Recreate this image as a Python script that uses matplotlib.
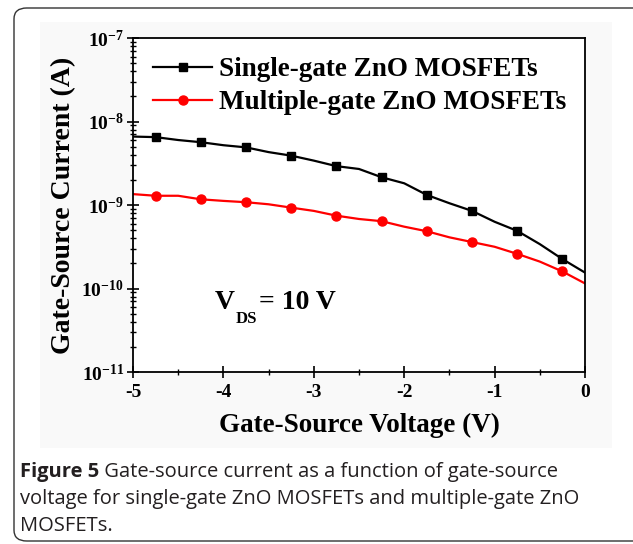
import numpy as np
import matplotlib
matplotlib.use("Agg")
import matplotlib.pyplot as plt
from matplotlib.patches import FancyBboxPatch, Rectangle
from matplotlib.ticker import FixedLocator, FuncFormatter, LogLocator, NullFormatter

# ---- data ----
vgs = [-5.0, -4.75, -4.5, -4.25, -4.0, -3.75, -3.5, -3.25, -3.0, -2.75, -2.5,
       -2.25, -2.0, -1.75, -1.5, -1.25, -1.0, -0.75, -0.5, -0.25, 0.0]
single_gate = [6.6e-9, 6.5e-9, 6.0e-9, 5.65e-9, 5.2e-9, 4.9e-9, 4.3e-9, 3.9e-9,
               3.4e-9, 2.92e-9, 2.7e-9, 2.15e-9, 1.82e-9, 1.32e-9, 1.05e-9,
               8.5e-10, 6.3e-10, 4.9e-10, 3.4e-10, 2.25e-10, 1.55e-10]
multi_gate = [1.35e-9, 1.29e-9, 1.29e-9, 1.17e-9, 1.12e-9, 1.08e-9, 1.02e-9,
              9.3e-10, 8.5e-10, 7.45e-10, 6.8e-10, 6.4e-10, 5.5e-10, 4.85e-10,
              4.1e-10, 3.6e-10, 3.16e-10, 2.6e-10, 2.1e-10, 1.6e-10, 1.15e-10]
labels = ["Single-gate ZnO MOSFETs", "Multiple-gate ZnO MOSFETs"]
x_ticks = [-5, -4, -3, -2, -1, 0]
y_exps = [-11, -10, -9, -8, -7]
caption_bold = "Figure 5"
caption_rest = (" Gate-source current as a function of gate-source\n"
                "voltage for single-gate ZnO MOSFETs and multiple-gate ZnO\n"
                "MOSFETs.")

plt.rcParams['mathtext.fontset'] = 'custom'
plt.rcParams['mathtext.rm'] = 'Liberation Serif:bold'
plt.rcParams['mathtext.bf'] = 'Liberation Serif:bold'
plt.rcParams['mathtext.it'] = 'Liberation Serif:bold'

W, H = 633, 544
fig = plt.figure(figsize=(W / 100, H / 100), dpi=100)
fig.patch.set_facecolor('white')

# outer rounded border
border = FancyBboxPatch((14 / W, 3 / H), (W + 20 - 14) / W, (536 - 3) / H,
                        boxstyle="round,pad=0,rounding_size=0.02",
                        transform=fig.transFigure, fill=False,
                        edgecolor='#333333', linewidth=1.0, zorder=0)
fig.patches.append(border)
# light gray image background
bg = Rectangle((40 / W, 1 - 448 / H), (612 - 40) / W, (448 - 22) / H,
               transform=fig.transFigure, facecolor='#f9f9f9',
               edgecolor='none', zorder=-1)
fig.patches.append(bg)

left, right, top, bottom = 133, 585, 38, 372
ax = fig.add_axes([left / W, 1 - bottom / H, (right - left) / W, (bottom - top) / H])
ax.set_facecolor('white')

serif = 'Liberation Serif'

ax.plot(vgs, single_gate, color='black', lw=1.6, marker='s', ms=6,
        markevery=list(range(1, len(vgs) - 1, 2)), label=labels[0])
ax.plot(vgs, multi_gate, color='#ff0000', lw=1.6, marker='o', ms=6.5,
        markevery=list(range(1, len(vgs) - 1, 2)), label=labels[1])

ax.set_yscale('log')
ax.set_xlim(-5, 0)
ax.set_ylim(1e-11, 1e-7)

ax.xaxis.set_major_locator(FixedLocator(x_ticks))
ax.xaxis.set_minor_locator(FixedLocator([-4.5, -3.5, -2.5, -1.5, -0.5]))
ax.set_xticklabels([str(t) for t in x_ticks], fontfamily=serif,
                   fontweight='bold', fontsize=14)

ax.yaxis.set_major_locator(FixedLocator([10.0 ** e for e in y_exps]))
ax.yaxis.set_major_formatter(FuncFormatter(
    lambda v, p: r'$\mathbf{10^{%d}}$' % int(round(np.log10(v)))))
ax.yaxis.set_minor_locator(LogLocator(base=10, subs=np.arange(2, 10)))
ax.yaxis.set_minor_formatter(NullFormatter())
for t in ax.get_yticklabels():
    t.set_fontsize(14)

ax.tick_params(axis='both', which='major', direction='inout', length=9,
               width=1.2, top=False, right=False, pad=2)
ax.tick_params(axis='both', which='minor', direction='inout', length=4.5,
               width=1.0, top=False, right=False)
ax.tick_params(axis='x', which='major', pad=4)
for s in ax.spines.values():
    s.set_linewidth(1.3)

ax.set_xlabel('Gate-Source Voltage (V)', fontfamily=serif, fontweight='bold',
              fontsize=19.5, labelpad=9)
ax.set_ylabel('Gate-Source Current (A)', fontfamily=serif, fontweight='bold',
              fontsize=20, labelpad=4)

leg = ax.legend(loc='upper left', bbox_to_anchor=(0.02, 0.975), frameon=False,
                prop={'family': serif, 'weight': 'bold', 'size': 19.5},
                handlelength=2.2, handletextpad=0.25, labelspacing=0.3,
                borderaxespad=0.0)

# V_DS annotation
vy = 0.188
tv = ax.text(0.18, vy, 'V', transform=ax.transAxes, fontfamily=serif,
             fontweight='bold', fontsize=20, va='baseline', ha='left')
fig.canvas.draw()
bbv = tv.get_window_extent()
inv = ax.transAxes.inverted()
xv1, yv0 = inv.transform((bbv.x1, bbv.y0))
ts = ax.text(xv1 + 0.002, vy - 0.04, 'DS', transform=ax.transAxes,
             fontfamily=serif, fontweight='bold', fontsize=12, va='baseline',
             ha='left')
fig.canvas.draw()
bbs = ts.get_window_extent()
xs1, _ = inv.transform((bbs.x1, bbs.y0))
ax.text(xs1 + 0.004, vy, '= 10 V', transform=ax.transAxes, fontfamily=serif,
        fontweight='bold', fontsize=20, va='baseline', ha='left')

# caption
cap_y = 1 - 477 / H
t1 = fig.text(20 / W, cap_y, caption_bold, fontfamily='Open Sans',
              fontweight='bold', fontsize=14.5, color='#231f20', va='baseline')
fig.canvas.draw()
bb = t1.get_window_extent()
lines = caption_rest.split('\n')
fig.text(bb.x1 / W, cap_y, lines[0], fontfamily='Open Sans', fontsize=14.5,
         color='#231f20', va='baseline')
for i, ln in enumerate(lines[1:], start=1):
    fig.text(20 / W, cap_y - i * 27 / H, ln, fontfamily='Open Sans',
             fontsize=14.5, color='#231f20', va='baseline')

fig.savefig('out.png', dpi=100)
